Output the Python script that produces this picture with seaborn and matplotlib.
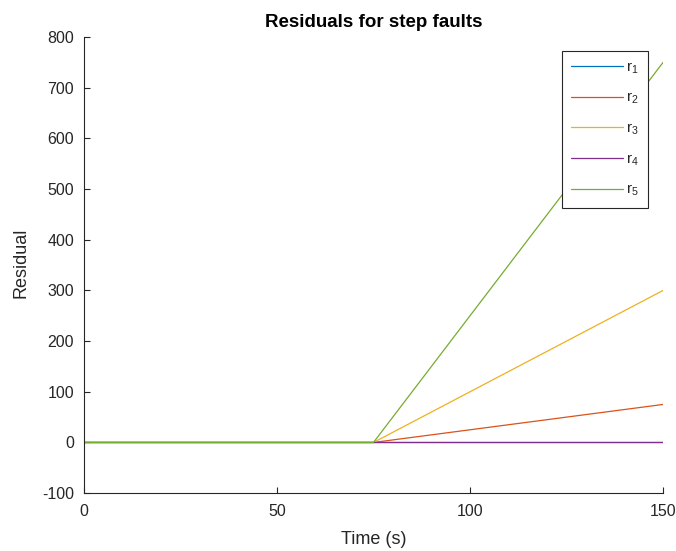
import numpy as np
import pandas as pd
import matplotlib
matplotlib.use("Agg")
import matplotlib.pyplot as plt
import seaborn as sns

# Residual signals: zero until the step fault at t = 75 s, then ramping
time = [0, 75, 150]
r1 = [0, 0, 0]
r2 = [0, 0, 75]
r3 = [0, 0, 300]
r4 = [0, 0, 0]
r5 = [0, 0, 750]
series_names = ["r1", "r2", "r3", "r4", "r5"]
legend_labels = [r"$\mathregular{r_1}$", r"$\mathregular{r_2}$", r"$\mathregular{r_3}$",
                 r"$\mathregular{r_4}$", r"$\mathregular{r_5}$"]
colors = ["#0072BD", "#D95319", "#EDB120", "#7E2F8E", "#77AC30"]

x_ticks = [0, 50, 100, 150]
y_ticks = [-100, 0, 100, 200, 300, 400, 500, 600, 700, 800]

frames = []
for name, vals in zip(series_names, [r1, r2, r3, r4, r5]):
    frames.append(pd.DataFrame({"time": time, "value": vals, "series": name}))
df = pd.concat(frames, ignore_index=True)

sns.set_theme(style="ticks")
plt.rcParams["font.family"] = ["Liberation Sans", "DejaVu Sans"]
plt.rcParams["axes.unicode_minus"] = False
axis_grey = "#262626"

fig = plt.figure(figsize=(6.76, 5.51), dpi=100)
ax = fig.add_axes([0.124, 0.105, 0.857, 0.828])

sns.lineplot(data=df, x="time", y="value", hue="series", hue_order=series_names,
             palette=colors, linewidth=0.9, ax=ax, legend=False)

ax.set_xlim(0, 150)
ax.set_ylim(-100, 800)
ax.set_xticks(x_ticks)
ax.set_yticks(y_ticks)
ax.tick_params(direction="in", length=4, width=0.8, colors=axis_grey,
               labelsize=11.5, labelcolor=axis_grey)
ax.tick_params(axis="x", pad=8)
ax.tick_params(axis="y", pad=7)
for side in ["top", "right"]:
    ax.spines[side].set_visible(False)
for side in ["left", "bottom"]:
    ax.spines[side].set_color(axis_grey)
    ax.spines[side].set_linewidth(0.8)

ax.set_xlabel("Time (s)", fontsize=13, color=axis_grey, va="center")
ax.xaxis.set_label_coords(0.5, -0.101)
ax.set_ylabel("Residual", fontsize=13, color=axis_grey, va="center")
ax.yaxis.set_label_coords(-0.108, 0.505)
ax.set_title("Residuals for step faults", fontsize=13.5, fontweight="bold",
             color="black", pad=7)

handles = [plt.Line2D([], [], color=c, linewidth=0.9) for c in colors]
leg = ax.legend(handles, legend_labels, loc="upper right",
                bbox_to_anchor=(0.974, 0.969), frameon=True, fancybox=False,
                fontsize=11, handlelength=3.4, handletextpad=0.2,
                labelspacing=1.0, borderpad=0.6, borderaxespad=0)
leg.get_frame().set_edgecolor(axis_grey)
leg.get_frame().set_linewidth(0.8)
leg.get_frame().set_facecolor("white")
leg.get_frame().set_alpha(1)

fig.savefig("out.png", dpi=100)
